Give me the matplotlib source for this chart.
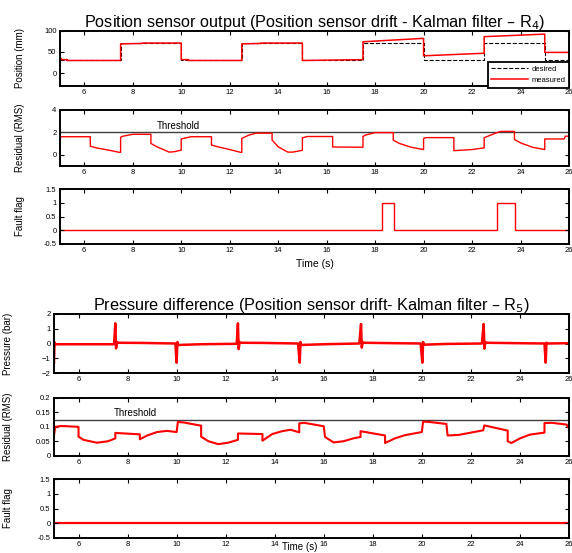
import matplotlib
matplotlib.use("Agg")
import matplotlib.pyplot as plt

plt.rcParams['font.family'] = ['Liberation Sans', 'DejaVu Sans']

# ---------------- data ----------------
switch_edges = [5, 7.5, 10, 12.5, 15, 17.5, 20, 22.5, 25, 26]
desired_levels = [30, 70, 30, 70, 30, 70, 30, 70, 30]

meas_t = [5.0, 5.0, 5.05, 5.05, 5.3, 5.3, 7.5, 7.5, 8.4, 8.4, 10.0, 10.0, 10.3, 10.3,
          12.5, 12.5, 13.3, 13.3, 15.0, 15.0, 17.5, 17.5, 20.0, 20.0, 22.5, 22.5,
          25.0, 25.0, 26.0]
meas_v = [72, 35, 35, 32, 32, 30, 30, 69, 70, 71, 71, 32, 32, 30,
          30, 69, 70, 71, 71, 30, 32, 74, 82, 41, 47, 86,
          92, 49, 49]

r4_t = [5.0, 5.02, 6.25, 6.25, 6.5, 7.0, 7.45, 7.5, 7.5, 7.6, 8.0, 8.75, 8.75, 9.0,
        9.5, 9.7, 10.0, 10.0, 10.4, 11.25, 11.25, 11.6, 12.0, 12.45, 12.5, 12.5,
        12.8, 13.1, 13.75, 13.75, 14.0, 14.4, 14.6, 15.0, 15.0, 15.2, 16.25, 16.25,
        17.3, 17.5, 17.5, 17.6, 18.0, 18.75, 18.75, 19.0, 19.5, 20.0, 20.0, 20.1,
        21.25, 21.25, 22.0, 22.5, 22.5, 22.6, 23.0, 23.2, 23.75, 23.75, 24.0, 24.5,
        25.0, 25.0, 25.8, 25.85, 26.0]
r4_v = [0.5, 1.6, 1.6, 0.75, 0.6, 0.4, 0.2, 0.2, 1.55, 1.65, 1.82, 1.82, 1.0, 0.7,
        0.22, 0.25, 0.4, 1.4, 1.6, 1.6, 0.85, 0.65, 0.45, 0.2, 0.2, 1.45,
        1.75, 1.92, 1.92, 1.3, 0.7, 0.22, 0.22, 0.38, 1.5, 1.62, 1.62, 0.68,
        0.66, 0.66, 1.62, 1.75, 1.97, 1.97, 1.3, 1.0, 0.65, 0.45, 1.45, 1.52,
        1.52, 0.35, 0.45, 0.6, 1.5, 1.6, 1.95, 2.08, 2.08, 1.35, 1.05, 0.65,
        0.45, 1.4, 1.4, 1.65, 1.65]
r4_threshold = 2.0

flag4_edges = [5, 18.29, 18.76, 23.02, 23.79, 26]
flag4_values = [0, 1, 0, 1, 0]

p_t = [5.0, 5.02, 5.05, 7.45, 7.5, 7.53, 7.57, 7.62, 8.5, 9.95, 10.0, 10.03, 10.06, 11.0,
       12.45, 12.5, 12.53, 12.57, 12.62, 13.5, 14.95, 15.02, 15.05, 15.08, 16.0,
       17.45, 17.52, 17.55, 17.59, 17.63, 18.5, 19.95, 20.02, 20.05, 20.08, 21.0,
       22.45, 22.52, 22.55, 22.59, 22.63, 23.5, 25.0, 25.05, 25.08, 25.12, 26.0]
p_v = [-1.3, 0.1, -0.05, -0.05, 1.37, -0.33, 0.1, 0.05, 0.04, 0.0, -1.3, 0.1, -0.1, -0.05,
       -0.02, 1.37, -0.38, 0.1, 0.05, 0.04, 0.0, -1.3, 0.1, -0.1, -0.05,
       0.0, 1.32, -0.28, 0.1, 0.05, 0.03, 0.0, -1.3, 0.1, -0.08, -0.03,
       0.0, 1.32, -0.35, 0.1, 0.05, 0.03, 0.0, -1.3, 0.05, 0.0, 0.02]

r5_t = [5.0, 5.05, 5.3, 6.0, 6.0, 6.2, 6.75, 7.2, 7.5, 7.5, 8.5, 8.5, 8.8, 9.2, 9.6,
        10.0, 10.05, 10.3, 11.0, 11.0, 11.3, 11.7, 12.1, 12.5, 12.5, 13.5, 13.5,
        13.9, 14.3, 14.65, 15.0, 15.0, 15.2, 16.0, 16.05, 16.4, 16.8, 17.2, 17.5,
        17.5, 18.5, 18.5, 18.9, 19.3, 20.0, 20.05, 20.3, 21.0, 21.05, 21.5, 22.0,
        22.5, 22.55, 23.5, 23.5, 23.65, 24.0, 24.4, 25.0, 25.0, 25.3, 25.9, 26.0]
r5_v = [0.07, 0.1, 0.103, 0.1, 0.066, 0.055, 0.045, 0.05, 0.06, 0.079, 0.074, 0.057, 0.07, 0.082, 0.086,
        0.082, 0.117, 0.115, 0.104, 0.066, 0.05, 0.04, 0.045, 0.055, 0.077, 0.075, 0.052,
        0.075, 0.085, 0.09, 0.081, 0.112, 0.114, 0.102, 0.065, 0.046, 0.05, 0.06, 0.065,
        0.085, 0.07, 0.044, 0.06, 0.071, 0.082, 0.118, 0.117, 0.11, 0.07, 0.072, 0.08,
        0.088, 0.105, 0.087, 0.05, 0.044, 0.06, 0.073, 0.08, 0.113, 0.114, 0.108, 0.095]
r5_threshold = 0.123

flag5_edges = [5, 26]
flag5_values = [0]

xticks = [6, 8, 10, 12, 14, 16, 18, 20, 22, 24, 26]

# ---------------- figure ----------------
fig = plt.figure(figsize=(5.72, 5.53), dpi=100)
W, H = 572.0, 553.0


def make_ax(left, right, top, bottom):
    ax = fig.add_axes([left / W, 1 - bottom / H, (right - left) / W, (bottom - top) / H])
    ax.set_xlim(5, 26)
    ax.set_xticks(xticks)
    ax.tick_params(direction='in', length=3, width=0.8, labelsize=5.5, top=True,
                   right=True, pad=2.5)
    for s in ax.spines.values():
        s.set_linewidth(1.4)
    return ax


red = '#ff0000'

# Panel 1
ax1 = make_ax(60, 569, 30.7, 86)
ax1.stairs(desired_levels, switch_edges, color='black', ls='--', lw=0.8, baseline=None,
           label='desired')
ax1.plot(meas_t, meas_v, color=red, lw=1.1, label='measured')
ax1.set_ylim(-30, 100)
ax1.set_yticks([0, 50, 100])
ax1.set_ylabel('Position (mm)', fontsize=7)
ax1.yaxis.set_label_coords(-0.068, 0.5)
ax1.set_title('Position sensor output (Position sensor drift - Kalman filter – R$_4$)',
              fontsize=11.7, pad=3)
leg = ax1.legend(loc='upper right', bbox_to_anchor=(1.0, 0.44), fontsize=5.5,
                 frameon=True, fancybox=False, edgecolor='black', framealpha=1,
                 borderpad=0.5, handlelength=4.8, handletextpad=0.4, labelspacing=0.5,
                 borderaxespad=0)
leg.get_frame().set_linewidth(1.3)

# Panel 2
ax2 = make_ax(60, 569, 110, 165.7)
ax2.axhline(r4_threshold, color='#404040', lw=1.0)
ax2.plot(r4_t, r4_v, color=red, lw=1.0)
ax2.text(9.9, r4_threshold + 0.15, 'Threshold', fontsize=7, ha='center', va='bottom')
ax2.set_ylim(-1, 4)
ax2.set_yticks([0, 2, 4])
ax2.set_ylabel('Residual (RMS)', fontsize=7)
ax2.yaxis.set_label_coords(-0.068, 0.5)

# Panel 3
ax3 = make_ax(60, 569, 189, 244)
ax3.stairs(flag4_values, flag4_edges, color=red, lw=1.0, baseline=None)
ax3.set_ylim(-0.5, 1.5)
ax3.set_yticks([-0.5, 0, 0.5, 1, 1.5])
ax3.set_yticklabels(['-0.5', '0', '0.5', '1', '1.5'])
ax3.set_ylabel('Fault flag', fontsize=7)
ax3.yaxis.set_label_coords(-0.068, 0.5)
ax3.set_xlabel('Time (s)', fontsize=7.5, labelpad=3)

# Panel 4
ax4 = make_ax(54, 569, 314, 373)
ax4.plot(p_t, p_v, color=red, lw=1.8)
ax4.set_ylim(-2, 2)
ax4.set_yticks([-2, -1, 0, 1, 2])
ax4.set_ylabel('Pressure (bar)', fontsize=7)
ax4.yaxis.set_label_coords(-0.08, 0.5)
ax4.set_title('Pressure difference (Position sensor drift- Kalman filter – R$_5$)',
              fontsize=11.7, pad=3)

# Panel 5
ax5 = make_ax(54, 569, 398, 455.7)
ax5.axhline(r5_threshold, color='#404040', lw=1.0)
ax5.plot(r5_t, r5_v, color=red, lw=1.5)
ax5.text(8.3, r5_threshold + 0.007, 'Threshold', fontsize=7, ha='center', va='bottom')
ax5.set_ylim(0, 0.2)
ax5.set_yticks([0, 0.05, 0.1, 0.15, 0.2])
ax5.set_yticklabels(['0', '0.05', '0.1', '0.15', '0.2'])
ax5.set_ylabel('Residual (RMS)', fontsize=7)
ax5.yaxis.set_label_coords(-0.08, 0.5)

# Panel 6
ax6 = make_ax(54, 569, 479, 538)
ax6.stairs(flag5_values, flag5_edges, color=red, lw=1.6, baseline=None)
ax6.set_ylim(-0.5, 1.5)
ax6.set_yticks([-0.5, 0, 0.5, 1, 1.5])
ax6.set_yticklabels(['-0.5', '0', '0.5', '1', '1.5'])
ax6.set_ylabel('Fault flag', fontsize=7)
ax6.yaxis.set_label_coords(-0.08, 0.5)
fig.text(300 / W, 1.0 / H, 'Time (s)', fontsize=7, ha='center', va='bottom')

fig.savefig('out.png', dpi=100)
